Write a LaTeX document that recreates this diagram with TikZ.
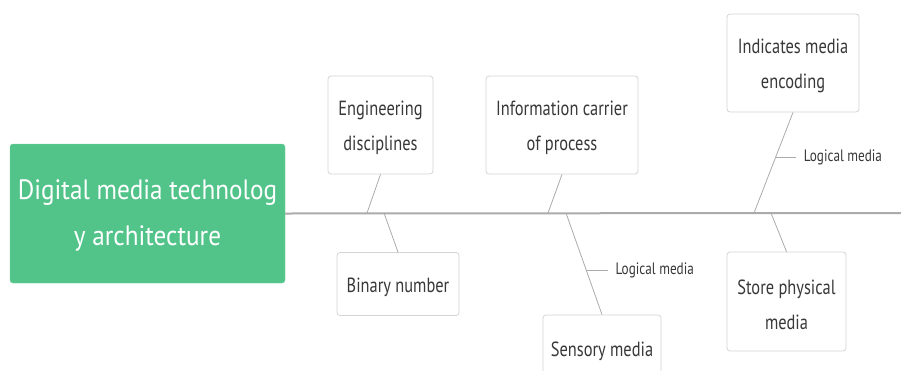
\documentclass[tikz,border=0pt]{standalone}
\usepackage{fontspec}
\setmainfont{PT Sans}[FakeStretch=0.9]
\newfontfamily\topicfont{PT Sans}[FakeStretch=0.8]
\definecolor{mgreen}{HTML}{52C48A}
\definecolor{bordergray}{HTML}{D4D4D4}
\definecolor{linegray}{HTML}{ABABAB}
\definecolor{txtgray}{HTML}{383838}
\begin{document}
\begin{tikzpicture}[x=1pt,y=-1pt,
  topic/.style={draw=bordergray, line width=0.8pt, fill=white, rounded corners=3pt, inner sep=0pt},
  ttext/.style={align=center, text=txtgray, font=\topicfont\fontsize{20.5}{35}\selectfont, inner sep=0pt, yshift=-3pt},
  rootbox/.style={fill=mgreen, draw=mgreen!85!white, rounded corners=3pt, inner sep=0pt},
  roottext/.style={align=center, text=white, font=\fontsize{28}{46}\selectfont, inner sep=0pt, yshift=-2pt},
  bone/.style={draw=linegray, line width=0.8pt},
  spine/.style={draw=linegray, line width=2pt},
  lbl/.style={anchor=west, text=txtgray, font=\topicfont\fontsize{16.5}{18}\selectfont, inner sep=0pt}]
\useasboundingbox (0,0) rectangle (901,370);
% root
\node[rootbox, minimum width=275pt, minimum height=139pt,
  label={[roottext]center:Digital media technolog\\y architecture}] (root) at (147.5,213.5) {};
% spine
\coordinate (end) at (901,213);
\draw[spine] (root.east) -- (end);
% spine points
\coordinate (p1) at (367,213);
\coordinate (p2) at (384,213);
\coordinate (p3) at (548,213);
\coordinate (p4) at (566,213);
\coordinate (p5) at (754,213);
\coordinate (p6) at (771,213);
% topics
\node[topic, minimum width=105pt, minimum height=98pt,
  label={[ttext]center:Engineering\\disciplines}] (eng) at (380.5,125) {};
\node[topic, minimum width=152pt, minimum height=98pt,
  label={[ttext]center:Information carrier\\of process}] (info) at (562,125) {};
\node[topic, minimum width=122pt, minimum height=63pt,
  label={[ttext]center:Binary number}] (bin) at (398,284) {};
\node[topic, minimum width=132pt, minimum height=98pt,
  label={[ttext]center:Indicates media\\encoding}] (ind) at (793,63) {};
\node[topic, minimum width=119pt, minimum height=99pt,
  label={[ttext]center:Store physical\\media}] (sto) at (786.5,301.5) {};
\node[topic, minimum width=118pt, minimum height=66pt,
  label={[ttext]center:Sensory media}] (sen) at (602,348) {};
% bones
\draw[bone] (eng.south) -- (p1);
\draw[bone] (p2) -- (bin.north);
\draw[bone] (info.south) -- (p3);
\draw[bone] (p4) -- (sen.north) coordinate[pos=0.569] (lm1);
\draw[bone] (ind.south) -- (p5) coordinate[pos=0.446] (lm2);
\draw[bone] (p6) -- (sto.north);
% logical media labels
\coordinate (lm1e) at ([xshift=22pt]lm1);
\coordinate (lm2e) at ([xshift=20pt]lm2);
\draw[bone] (lm1) -- (lm1e);
\draw[bone] (lm2) -- (lm2e);
\node[lbl] (l1) at ([xshift=7pt]lm1e) {Logical media};
\node[lbl] (l2) at ([xshift=8pt]lm2e) {Logical media};
\end{tikzpicture}
\end{document}
